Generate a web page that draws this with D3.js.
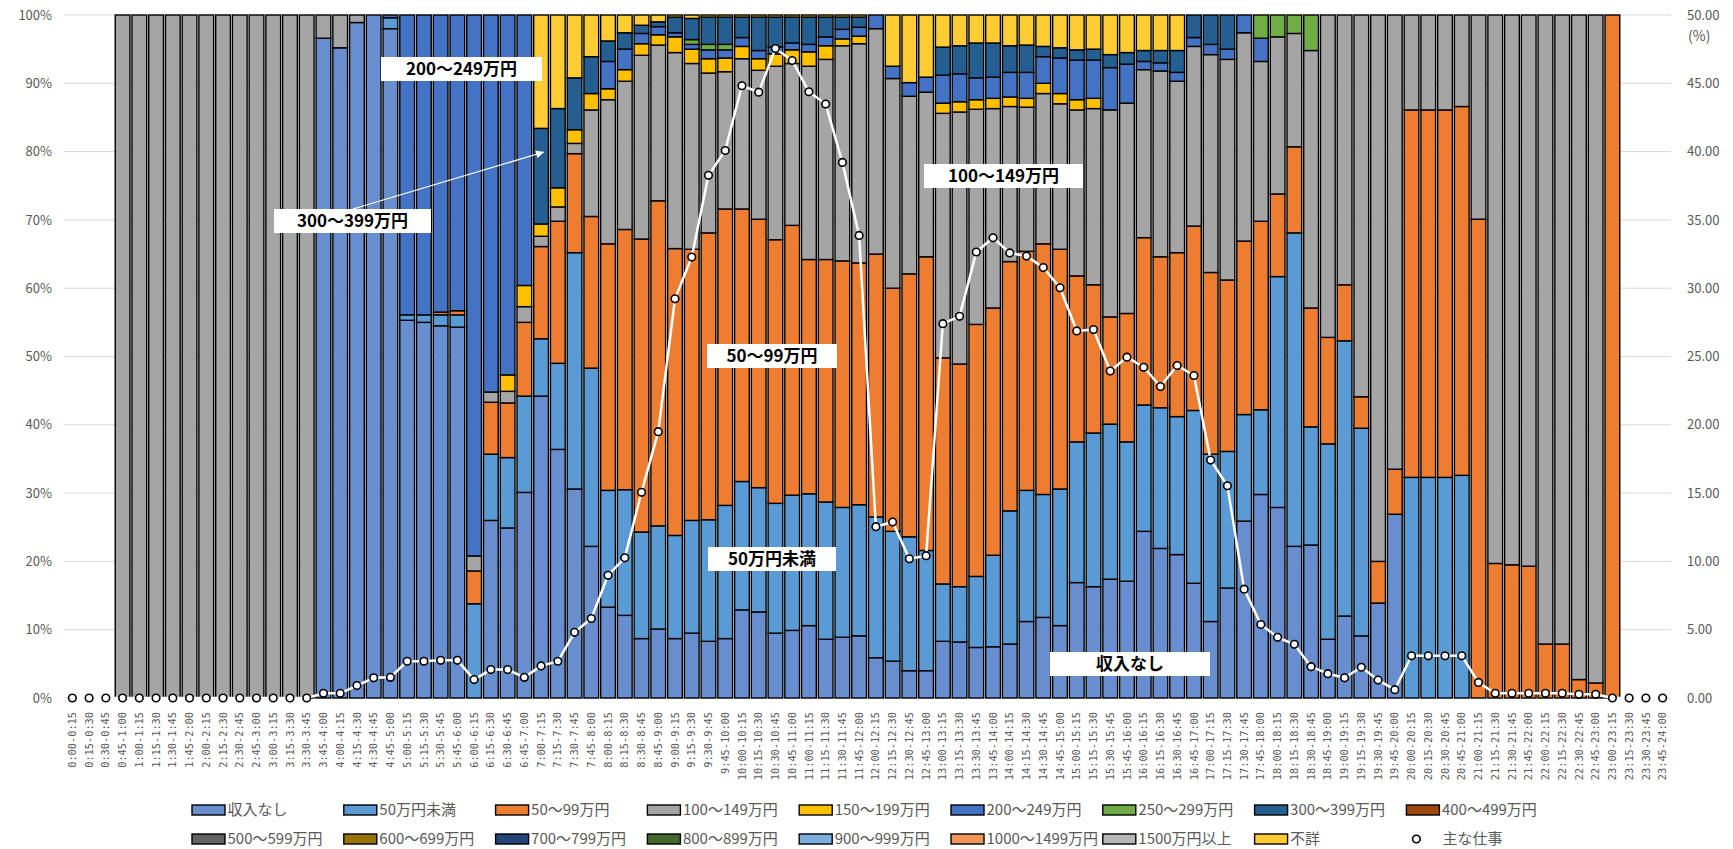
<!DOCTYPE html>
<html>
<head>
<meta charset="utf-8">
<script src="https://cdn.jsdelivr.net/npm/d3@7"></script>
<style>
  body { margin: 0; background: #fff; }
  svg { display: block; }
</style>
</head>
<body>
<svg id="chart" width="1733" height="849"></svg>
<script>
// 15-minute time slots (x-axis categories)
const timeSlots = [
  "0:00-0:15","0:15-0:30","0:30-0:45","0:45-1:00","1:00-1:15","1:15-1:30","1:30-1:45","1:45-2:00",
  "2:00-2:15","2:15-2:30","2:30-2:45","2:45-3:00","3:00-3:15","3:15-3:30","3:30-3:45","3:45-4:00",
  "4:00-4:15","4:15-4:30","4:30-4:45","4:45-5:00","5:00-5:15","5:15-5:30","5:30-5:45","5:45-6:00",
  "6:00-6:15","6:15-6:30","6:30-6:45","6:45-7:00","7:00-7:15","7:15-7:30","7:30-7:45","7:45-8:00",
  "8:00-8:15","8:15-8:30","8:30-8:45","8:45-9:00","9:00-9:15","9:15-9:30","9:30-9:45","9:45-10:00",
  "10:00-10:15","10:15-10:30","10:30-10:45","10:45-11:00","11:00-11:15","11:15-11:30","11:30-11:45","11:45-12:00",
  "12:00-12:15","12:15-12:30","12:30-12:45","12:45-13:00","13:00-13:15","13:15-13:30","13:30-13:45","13:45-14:00",
  "14:00-14:15","14:15-14:30","14:30-14:45","14:45-15:00","15:00-15:15","15:15-15:30","15:30-15:45","15:45-16:00",
  "16:00-16:15","16:15-16:30","16:30-16:45","16:45-17:00","17:00-17:15","17:15-17:30","17:30-17:45","17:45-18:00",
  "18:00-18:15","18:15-18:30","18:30-18:45","18:45-19:00","19:00-19:15","19:15-19:30","19:30-19:45","19:45-20:00",
  "20:00-20:15","20:15-20:30","20:30-20:45","20:45-21:00","21:00-21:15","21:15-21:30","21:30-21:45","21:45-22:00",
  "22:00-22:15","22:15-22:30","22:30-22:45","22:45-23:00","23:00-23:15","23:15-23:30","23:30-23:45","23:45-24:00"
];

// Income classes (stack order, bottom to top) and their fills
const incomeClasses = [
  "収入なし","50万円未満","50～99万円","100～149万円","150～199万円","200～249万円",
  "250～299万円","300～399万円","400～499万円","500～599万円","600～699万円","700～799万円",
  "800～899万円","900～999万円","1000～1499万円","1500万円以上","不詳"
];
const classColors = [
  "#698ED0","#5B9BD5","#ED7D31","#A5A5A5","#FFC000","#4472C4",
  "#70AD47","#255E91","#9E480E","#636363","#997300","#264478",
  "#43682B","#7CAFDD","#F1975A","#B7B7B7","#FFCD33"
];

// Share of each income class per time slot (%)
const noIncome = [
  0,0,0,0,0,0,0,0,0,0,0,0,
  0,0,0,96.6,95.2,98.9,100,98.0,55.3,55.0,54.5,54.3,
  0,26.0,24.9,30.1,44.2,36.4,30.6,22.2,13.3,12.1,8.7,10.1,
  8.7,9.5,8.3,8.7,12.9,12.6,9.5,9.9,10.6,8.6,8.9,9.1,
  5.9,5.4,4.0,4.0,8.3,8.2,7.4,7.5,7.9,11.2,11.8,10.6,
  16.9,16.3,17.4,17.1,24.4,21.9,21.0,16.8,11.2,16.1,25.9,29.8,
  27.9,22.2,22.4,8.6,12.0,9.1,13.9,26.9,0,0,0,0,
  0,0,0,0,0,0,0,0,0,0,0,0
];
const under50 = [
  0,0,0,0,0,0,0,0,0,0,0,0,
  0,0,0,0,0,0,0,1.6,0.8,1.1,1.6,1.8,
  13.8,9.7,10.3,14.1,8.4,12.6,34.6,26.1,17.1,18.4,15.6,15.1,
  15.1,16.5,17.8,19.5,18.8,18.2,19.0,19.8,19.3,20.1,19.0,19.2,
  20.6,19.0,19.6,17.6,8.4,8.1,10.4,13.4,19.5,19.2,18.0,20.0,
  20.6,22.5,22.7,20.4,18.5,20.6,20.2,25.3,24.5,20.0,15.6,12.4,
  33.8,45.9,17.3,28.6,40.3,30.4,0,0,32.3,32.3,32.3,32.6,
  0,0,0,0,0,0,0,0,0,0,0,0
];
const inc50to99 = [
  0,0,0,0,0,0,0,0,0,0,0,0,
  0,0,0,0,0,0,0,0,0,0,0.4,0.6,
  4.8,7.6,8.0,10.8,13.5,20.8,14.5,22.2,36.1,38.1,42.9,47.6,
  42.0,39.7,42.0,43.4,39.9,39.3,38.6,39.5,34.3,35.5,36.1,35.4,
  38.5,35.6,38.5,43.0,33.1,32.6,36.9,36.2,36.5,35.0,36.7,35.1,
  24.3,21.7,15.7,18.8,24.5,22.1,24.0,27.0,26.6,25.1,25.4,27.6,
  12.1,12.6,17.4,15.6,8.2,4.6,6.1,6.6,53.8,53.8,53.8,54.0,
  70.1,19.7,19.5,19.3,7.9,7.9,2.7,2.2,100,0,0,0
];
const inc100to149 = [
  0,0,0,100,100,100,100,100,100,100,100,100,
  100,100,100,3.4,4.8,1.1,0,0,0,0,0,0,
  2.2,1.5,1.7,2.3,1.5,2.1,1.5,15.6,21.1,21.7,26.9,22.8,
  28.7,27.2,23.4,20.1,22.0,21.8,25.4,23.7,28.3,29.3,31.5,32.1,
  33.0,30.7,26.0,24.1,35.8,36.9,31.5,29.2,22.7,21.1,22.0,21.3,
  24.3,25.8,30.3,30.8,24.6,27.2,25.1,26.3,31.9,32.3,30.5,23.4,
  23.0,16.6,37.7,47.2,39.5,55.9,80.0,66.5,13.9,13.9,13.9,13.4,
  29.9,80.3,80.5,80.7,92.1,92.1,97.3,97.8,0,0,0,0
];
const inc150to199 = [
  0,0,0,0,0,0,0,0,0,0,0,0,
  0,0,0,0,0,0,0,0,0,0,0,0,
  0,0,2.4,3.1,1.8,2.8,2.0,2.4,1.6,1.7,1.7,1.5,
  2.3,2.1,2.1,2.0,1.8,1.7,1.8,2.0,2.1,2.0,1.0,1.1,
  0,0,0,0,1.5,1.5,1.4,1.5,1.4,1.3,1.5,1.5,
  1.5,1.5,0,0,0,0,0,0,0,0,0,0,
  0,0,0,0,0,0,0,0,0,0,0,0,
  0,0,0,0,0,0,0,0,0,0,0,0
];
const inc200to249 = [
  0,0,0,0,0,0,0,0,0,0,0,0,
  0,0,0,0,0,0,0,0.4,43.9,43.9,43.5,43.3,
  79.2,55.2,52.7,39.6,0,0,0,0,4.0,3.0,1.5,1.2,
  0.6,0.7,1.3,1.2,1.3,1.2,1.0,1.0,1.1,1.3,1.4,1.3,
  2.0,1.8,2.0,2.2,4.1,4.1,3.2,3.1,3.6,3.8,3.9,5.2,
  5.8,5.6,6.2,5.7,1.2,1.2,1.3,1.3,1.5,1.5,2.6,3.4,
  0,0,0,0,0,0,0,0,0,0,0,0,
  0,0,0,0,0,0,0,0,0,0,0,0
];
const inc250to299 = [
  0,0,0,0,0,0,0,0,0,0,0,0,
  0,0,0,0,0,0,0,0,0,0,0,0,
  0,0,0,0,0,0,0,0,0,0,0,0,
  0,0.7,0.8,0.8,0,0,0,0,0,0,0,0,
  0,0,0,0,0,0,0,0,0,0,0,0,
  0,0,0,0,0,0,0,0,0,0,0,3.4,
  3.2,2.7,5.2,0,0,0,0,0,0,0,0,0,
  0,0,0,0,0,0,0,0,0,0,0,0
];
const inc300to399 = [
  0,0,0,0,0,0,0,0,0,0,0,0,
  0,0,0,0,0,0,0,0,0,0,0,0,
  0,0,0,0,14.0,11.6,7.6,5.4,3.0,2.4,1.2,0.7,
  2.3,3.1,4.0,4.0,3.0,4.9,4.4,3.8,4.0,2.9,1.8,1.5,
  0,0,0,0,4.1,4.1,5.1,5.0,3.9,4.0,1.5,1.5,
  1.5,1.6,1.9,1.7,1.6,1.8,3.2,3.3,4.3,5.0,0,0,
  0,0,0,0,0,0,0,0,0,0,0,0,
  0,0,0,0,0,0,0,0,0,0,0,0
];
const zeroRow = [
  0,0,0,0,0,0,0,0,0,0,0,0, 0,0,0,0,0,0,0,0,0,0,0,0,
  0,0,0,0,0,0,0,0,0,0,0,0, 0,0,0,0,0,0,0,0,0,0,0,0,
  0,0,0,0,0,0,0,0,0,0,0,0, 0,0,0,0,0,0,0,0,0,0,0,0,
  0,0,0,0,0,0,0,0,0,0,0,0, 0,0,0,0,0,0,0,0,0,0,0,0
];
// Classes from 400万円 upward have no share in any slot
const inc400to499 = zeroRow, inc500to599 = zeroRow, inc600to699 = zeroRow, inc700to799 = zeroRow,
      inc800to899 = zeroRow, inc900to999 = zeroRow, inc1000to1499 = zeroRow, inc1500plus = zeroRow;
const unknownIncome = [
  0,0,0,0,0,0,0,0,0,0,0,0,
  0,0,0,0,0,0,0,0,0,0,0,0,
  0,0,0,0,16.6,13.7,9.2,6.1,3.8,2.6,1.5,1.0,
  0.3,0.5,0.3,0.3,0.3,0.3,0.3,0.3,0.3,0.3,0.3,0.3,
  0,7.5,9.9,9.1,4.7,4.5,4.1,4.1,4.5,4.4,4.6,4.8,
  5.1,5.0,5.8,5.5,5.2,5.2,5.2,0,0,0,0,0,
  0,0,0,0,0,0,0,0,0,0,0,0,
  0,0,0,0,0,0,0,0,0,0,0,0
];

// 主な仕事: share doing main job in each slot (%, right axis)
const mainJob = [
  0,0,0,0,0,0,0,0,0,0,0,0,
  0,0,0,0.34,0.34,0.91,1.48,1.51,2.69,2.69,2.76,2.76,
  1.35,2.08,2.08,1.51,2.35,2.69,4.81,5.82,8.98,10.26,15.06,19.50,
  29.22,32.28,38.26,40.08,44.82,44.35,47.54,46.67,44.38,43.48,39.21,33.86,
  12.54,12.88,10.19,10.42,27.40,27.94,32.65,33.69,32.58,32.35,31.51,30.03,
  26.87,26.97,23.94,24.95,24.21,22.80,24.34,23.61,17.42,15.53,7.97,5.38,
  4.44,3.93,2.29,1.78,1.48,2.25,1.31,0.61,3.09,3.09,3.09,3.09,
  1.14,0.34,0.34,0.34,0.34,0.34,0.27,0.27,0,0,0,0
];
const lineName = "主な仕事";

// Axis tick labels
const leftTickLabels = ["0%","10%","20%","30%","40%","50%","60%","70%","80%","90%","100%"];
const rightTickLabels = ["0.00","5.00","10.00","15.00","20.00","25.00","30.00","35.00","40.00","45.00","50.00"];
const rightUnit = "(%)";

// Callout labels naming the bands
const callouts = [
  { text: "200～249万円", x0: 381, x1: 542, y0: 57,  y1: 81 },
  { text: "300～399万円", x0: 274, x1: 431, y0: 209, y1: 233 },
  { text: "100～149万円", x0: 924, x1: 1083, y0: 164, y1: 188 },
  { text: "50～99万円",   x0: 707, x1: 837, y0: 344, y1: 368 },
  { text: "50万円未満",   x0: 708, x1: 836, y0: 547, y1: 571 },
  { text: "収入なし",     x0: 1050, x1: 1210, y0: 652, y1: 676 }
];

// ---- layout ----
const plot = { left: 64, right: 1671, top: 15, bottom: 698 };
const textGray = "#595959";
const uiFont = "'Noto Sans CJK JP', 'Noto Sans', sans-serif";

const classSeries = [noIncome, under50, inc50to99, inc100to149, inc150to199, inc200to249,
  inc250to299, inc300to399, inc400to499, inc500to599, inc600to699, inc700to799,
  inc800to899, inc900to999, inc1000to1499, inc1500plus, unknownIncome];

const rows = timeSlots.map((slot, i) => {
  const r = { slot };
  incomeClasses.forEach((k, j) => { r[k] = classSeries[j][i]; });
  return r;
});
const stacked = d3.stack().keys(incomeClasses).offset(d3.stackOffsetExpand)(rows);

const svg = d3.select("#chart");

const x = d3.scaleBand().domain(timeSlots).range([plot.left, plot.right])
  .paddingInner(0.12).paddingOuter(0.06);
const yShare = d3.scaleLinear().domain([0, 1]).range([plot.bottom, plot.top]);
const yRight = d3.scaleLinear().domain([0, 50]).range([plot.bottom, plot.top]);

const leftTickVals = leftTickLabels.map((_, i) => i / (leftTickLabels.length - 1));
const rightTickVals = rightTickLabels.map(s => +s);

// gridlines
svg.append("g").selectAll("line").data(leftTickVals).join("line")
  .attr("x1", plot.left).attr("x2", plot.right)
  .attr("y1", d => yShare(d)).attr("y2", d => yShare(d))
  .attr("stroke", "#D9D9D9").attr("stroke-width", 1);

// left axis
const leftAxis = svg.append("g").attr("transform", `translate(${plot.left},0)`)
  .call(d3.axisLeft(yShare).tickValues(leftTickVals).tickSize(0).tickPadding(12)
    .tickFormat((d, i) => leftTickLabels[i]));
leftAxis.select(".domain").remove();
leftAxis.selectAll("text").attr("fill", textGray).style("font-family", uiFont).style("font-size", "13px");

// right axis
const rightAxis = svg.append("g").attr("transform", `translate(${plot.right},0)`)
  .call(d3.axisRight(yRight).tickValues(rightTickVals).tickSize(0).tickPadding(16)
    .tickFormat((d, i) => rightTickLabels[i]));
rightAxis.select(".domain").remove();
rightAxis.selectAll("text").attr("fill", textGray).style("font-family", uiFont).style("font-size", "13px");
svg.append("text").attr("x", plot.right + 17).attr("y", 36).attr("dy", "0.35em")
  .attr("fill", textGray).style("font-family", uiFont).style("font-size", "14px").text(rightUnit);

// x axis labels (rotated)
const xAxis = svg.append("g").attr("transform", `translate(0,${plot.bottom})`)
  .call(d3.axisBottom(x).tickSize(0));
xAxis.select(".domain").remove();
xAxis.selectAll("text")
  .attr("transform", "rotate(-90)")
  .attr("x", -14).attr("y", 0).attr("dy", "0.35em")
  .style("text-anchor", "end")
  .attr("fill", textGray)
  .style("font-family", "'DejaVu Sans Mono', monospace")
  .style("font-size", "10.3px");

// stacked 100% bars
svg.append("g").selectAll("g").data(stacked).join("g")
  .attr("fill", (d, i) => classColors[i])
  .selectAll("rect").data(d => d.filter(p => p[1] - p[0] > 0)).join("rect")
  .attr("x", p => x(p.data.slot))
  .attr("width", x.bandwidth())
  .attr("y", p => yShare(p[1]))
  .attr("height", p => yShare(p[0]) - yShare(p[1]))
  .attr("stroke", "#000").attr("stroke-width", 1.4);

// main-job line with markers
const cx = i => x(timeSlots[i]) + x.bandwidth() / 2;
svg.append("path").datum(mainJob)
  .attr("fill", "none").attr("stroke", "#fff").attr("stroke-width", 2.5)
  .attr("stroke-linejoin", "round")
  .attr("d", d3.line().x((d, i) => cx(i)).y(d => yRight(d)));
svg.append("g").selectAll("circle").data(mainJob).join("circle")
  .attr("cx", (d, i) => cx(i)).attr("cy", d => yRight(d)).attr("r", 3.8)
  .attr("fill", "#fff").attr("stroke", "#000").attr("stroke-width", 1.6);

// callout arrow to the 300～399万円 band at 7:00-7:15
svg.append("defs").append("marker")
  .attr("id", "arrowHead").attr("viewBox", "0 0 10 10")
  .attr("refX", 10).attr("refY", 5)
  .attr("markerWidth", 11).attr("markerHeight", 8)
  .attr("markerUnits", "userSpaceOnUse").attr("orient", "auto")
  .append("path").attr("d", "M0,0 L10,5 L0,10 Z").attr("fill", "#fff");
const arrowTarget = x("7:00-7:15") + x.bandwidth() * 0.7;
svg.append("line")
  .attr("x1", 353).attr("y1", 209).attr("x2", arrowTarget).attr("y2", 152)
  .attr("stroke", "#fff").attr("stroke-width", 1.2).attr("marker-end", "url(#arrowHead)");

// callout boxes
const cg = svg.append("g").selectAll("g").data(callouts).join("g");
cg.append("rect")
  .attr("x", d => d.x0).attr("y", d => d.y0)
  .attr("width", d => d.x1 - d.x0).attr("height", d => d.y1 - d.y0)
  .attr("fill", "#fff");
cg.append("text")
  .attr("x", d => (d.x0 + d.x1) / 2).attr("y", d => (d.y0 + d.y1) / 2)
  .attr("dy", "0.36em").attr("text-anchor", "middle")
  .style("font-family", uiFont).style("font-size", "17px").style("font-weight", "bold")
  .attr("fill", "#000").text(d => d.text);

// legend: two rows of nine entries
const legendItems = incomeClasses.map((name, i) => ({ name, color: classColors[i], kind: "bar" }))
  .concat([{ name: lineName, kind: "marker" }]);
const colStart = 192, colStep = 151.8, rowYs = [810, 839];
const lg = svg.append("g").selectAll("g").data(legendItems).join("g")
  .attr("transform", (d, i) => `translate(${colStart + (i % 9) * colStep},${rowYs[Math.floor(i / 9)]})`);
lg.filter(d => d.kind === "bar").append("rect")
  .attr("x", 0).attr("y", -5).attr("width", 33).attr("height", 10)
  .attr("fill", d => d.color).attr("stroke", "#000").attr("stroke-width", 1.4);
lg.filter(d => d.kind === "marker").append("circle")
  .attr("cx", 10).attr("cy", 0).attr("r", 3.8)
  .attr("fill", "#fff").attr("stroke", "#000").attr("stroke-width", 1.6);
lg.append("text")
  .attr("x", d => d.kind === "marker" ? 36 : 35.5).attr("y", 0).attr("dy", "0.35em")
  .attr("fill", textGray).style("font-family", uiFont).style("font-size", "15px")
  .text(d => d.name);
</script>
</body>
</html>
